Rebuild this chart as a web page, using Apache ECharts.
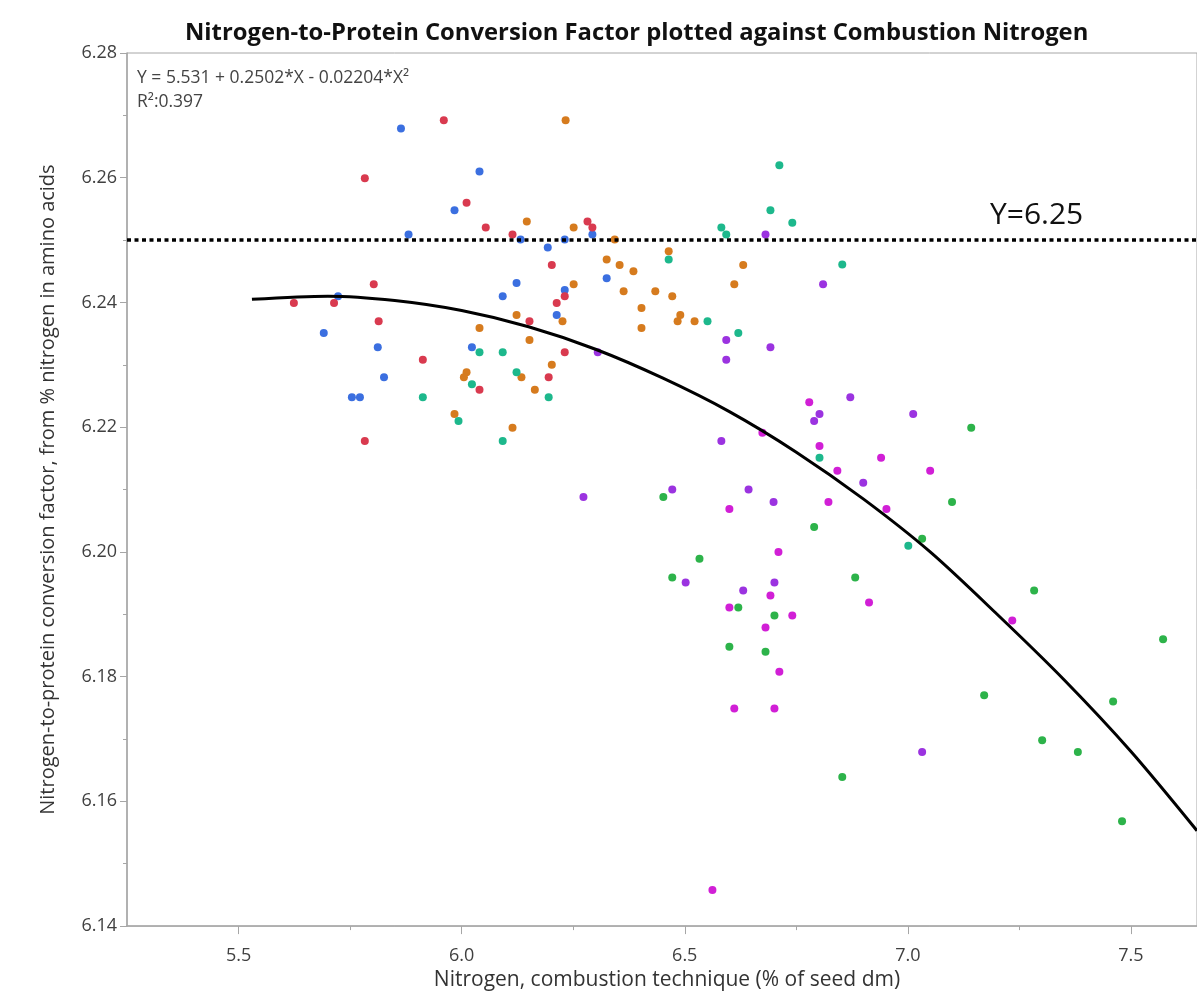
<!DOCTYPE html>
<html>
<head>
<meta charset="utf-8">
<script src="https://cdn.jsdelivr.net/npm/echarts@6/dist/echarts.min.js"></script>
<style>
  html, body { margin: 0; padding: 0; background: #fff; }
  #chart { width: 1197px; height: 996px; }
</style>
</head>
<body>
<div id="chart"></div>
<script>
// points per group: [nitrogen %, conversion factor]
const bluePts = [
  [5.864, 6.2679], [6.040, 6.2610], [5.984, 6.2548], [5.881, 6.2509], [6.132, 6.2501],
  [6.193, 6.2488], [6.231, 6.2501], [6.293, 6.2509], [6.325, 6.2439], [6.123, 6.2431],
  [6.092, 6.2410], [6.231, 6.2420], [6.213, 6.2380], [6.023, 6.2328], [5.723, 6.2410],
  [5.691, 6.2351], [5.812, 6.2328], [5.826, 6.2280], [5.754, 6.2248], [5.772, 6.2248]
];
const redPts = [
  [5.783, 6.2599], [5.803, 6.2429], [5.624, 6.2399], [5.714, 6.2399], [5.814, 6.2370],
  [5.913, 6.2308], [5.783, 6.2178], [5.960, 6.2692], [6.011, 6.2560], [6.054, 6.2520],
  [6.114, 6.2509], [6.282, 6.2530], [6.293, 6.2520], [6.202, 6.2460], [6.231, 6.2410],
  [6.213, 6.2399], [6.152, 6.2370], [6.231, 6.2320], [6.195, 6.2280], [6.040, 6.2260]
];
const orangePts = [
  [6.233, 6.2692], [6.146, 6.2530], [6.251, 6.2520], [6.343, 6.2501], [6.464, 6.2482],
  [6.325, 6.2469], [6.354, 6.2460], [6.385, 6.2450], [6.631, 6.2460], [6.251, 6.2429],
  [6.363, 6.2418], [6.434, 6.2418], [6.472, 6.2410], [6.611, 6.2429], [6.403, 6.2391],
  [6.123, 6.2380], [6.226, 6.2370], [6.490, 6.2380], [6.484, 6.2370], [6.522, 6.2370],
  [6.403, 6.2359], [6.040, 6.2359], [6.152, 6.2340], [6.202, 6.2300], [6.011, 6.2288],
  [6.005, 6.2280], [6.134, 6.2280], [6.164, 6.2260], [5.984, 6.2221], [6.114, 6.2199]
];
const tealPts = [
  [6.712, 6.2620], [6.692, 6.2548], [6.741, 6.2528], [6.582, 6.2520], [6.593, 6.2509],
  [6.464, 6.2469], [6.551, 6.2370], [6.620, 6.2351], [6.040, 6.2320], [6.092, 6.2320],
  [6.123, 6.2288], [6.023, 6.2269], [6.195, 6.2248], [5.993, 6.2210], [6.092, 6.2178],
  [6.853, 6.2461], [6.802, 6.2151], [7.001, 6.2010], [5.913, 6.2248]
];
const purplePts = [
  [6.681, 6.2509], [6.593, 6.2340], [6.692, 6.2328], [6.593, 6.2308], [6.305, 6.2320],
  [6.582, 6.2178], [6.810, 6.2429], [6.871, 6.2248], [6.802, 6.2221], [6.790, 6.2210],
  [7.012, 6.2221], [6.900, 6.2111], [6.273, 6.2088], [6.472, 6.2100], [6.643, 6.2100],
  [6.699, 6.2080], [6.502, 6.1951], [6.631, 6.1938], [6.701, 6.1951], [7.032, 6.1679]
];
const magentaPts = [
  [6.674, 6.2191], [6.779, 6.2240], [6.802, 6.2170], [6.940, 6.2151], [7.050, 6.2130],
  [6.842, 6.2130], [6.600, 6.2069], [6.822, 6.2080], [6.952, 6.2069], [6.710, 6.2000],
  [6.692, 6.1930], [6.913, 6.1919], [6.600, 6.1911], [6.741, 6.1898], [6.681, 6.1879],
  [6.712, 6.1808], [6.611, 6.1749], [6.701, 6.1749], [6.562, 6.1458], [7.234, 6.1890]
];
const greenPts = [
  [7.142, 6.2199], [7.099, 6.2080], [6.790, 6.2040], [7.032, 6.2021], [6.452, 6.2088],
  [6.533, 6.1989], [6.472, 6.1959], [6.882, 6.1959], [6.620, 6.1911], [6.701, 6.1898],
  [6.600, 6.1848], [6.681, 6.1840], [6.853, 6.1639], [7.171, 6.1770], [7.283, 6.1938],
  [7.572, 6.1860], [7.460, 6.1760], [7.301, 6.1698], [7.381, 6.1679], [7.480, 6.1568]
];

// fitted quadratic
const fitX = [5.53, 5.70, 5.85, 6.00, 6.15, 6.30, 6.45, 6.60, 6.75, 6.90, 7.05, 7.20, 7.35, 7.50, 7.648];
const fitY = [6.2405, 6.2410, 6.2403, 6.2387, 6.2361, 6.2325, 6.2279, 6.2225, 6.2160, 6.2085, 6.2000, 6.1900, 6.1795, 6.1680, 6.1553];

const refY = 6.25;
const xLabels = [5.5, 6.0, 6.5, 7.0, 7.5];
const xMinor = [5.75, 6.25, 6.75, 7.25];

const groups = [
  { pts: bluePts, color: '#3b6fe0' },
  { pts: redPts, color: '#d93a4f' },
  { pts: orangePts, color: '#d67b1e' },
  { pts: tealPts, color: '#1db88c' },
  { pts: purplePts, color: '#9b33e0' },
  { pts: magentaPts, color: '#d11fd6' },
  { pts: greenPts, color: '#2db34a' }
];

const chart = echarts.init(document.getElementById('chart'));
const axisGray = '#a6a6a6';
const font = 'Open Sans';

const scatterSeries = groups.map(g => ({
  type: 'scatter',
  data: g.pts,
  symbolSize: 8,
  itemStyle: { color: g.color, opacity: 1 },
  z: 2,
  silent: true
}));

chart.setOption({
  animation: false,
  backgroundColor: '#fff',
  title: {
    text: 'Nitrogen-to-Protein Conversion Factor plotted against Combustion Nitrogen',
    left: 185,
    top: 21,
    padding: 0,
    textStyle: { fontFamily: font, fontWeight: 'bold', fontSize: 23.8, color: '#111' }
  },
  grid: { left: 127, right: 0, top: 53, bottom: 68, show: true, borderColor: axisGray, borderWidth: 1 },
  xAxis: [
    {
      type: 'value',
      min: 5.25,
      max: 7.648,
      splitLine: { show: false },
      axisLine: { lineStyle: { color: axisGray, width: 1.5 } },
      axisTick: { customValues: xLabels, length: 8, lineStyle: { color: axisGray } },
      axisLabel: {
        customValues: xLabels,
        formatter: v => v.toFixed(1),
        margin: 21,
        fontFamily: font, fontSize: 18, color: '#404040'
      },
      name: 'Nitrogen, combustion technique (% of seed dm)',
      nameLocation: 'middle',
      nameGap: 43,
      nameTextStyle: { fontFamily: font, fontSize: 21, color: '#333', padding: [0, 0, 0, 10] }
    },
    {
      type: 'value',
      min: 5.25,
      max: 7.648,
      position: 'bottom',
      splitLine: { show: false },
      axisLine: { show: false },
      axisLabel: { show: false },
      axisTick: { customValues: xMinor, length: 4, lineStyle: { color: axisGray } }
    }
  ],
  yAxis: {
    type: 'value',
    min: 6.14,
    max: 6.28,
    interval: 0.02,
    splitLine: { show: false },
    axisLine: { show: true, lineStyle: { color: axisGray, width: 1.5 } },
    axisTick: { show: true, length: 7, lineStyle: { color: axisGray } },
    minorTick: { show: true, splitNumber: 2, length: 4, lineStyle: { color: axisGray } },
    axisLabel: { formatter: v => v.toFixed(2), margin: 10, fontFamily: font, fontSize: 18, color: '#404040' },
    name: 'Nitrogen-to-protein conversion factor, from % nitrogen in amino acids',
    nameLocation: 'middle',
    nameGap: 69,
    nameTextStyle: { fontFamily: font, fontSize: 20, color: '#333' }
  },
  graphic: [
    { type: 'text', left: 137, top: 69, style: { text: 'Y = 5.531 + 0.2502*X - 0.02204*X²', fontFamily: font, fontSize: 17.5, fill: '#444' } },
    { type: 'text', left: 137, top: 93, style: { text: 'R²:0.397', fontFamily: font, fontSize: 17.5, fill: '#444' } },
    { type: 'text', left: 990, top: 200, style: { text: 'Y=6.25', fontFamily: font, fontSize: 30, fill: '#111' } }
  ],
  series: [
    ...scatterSeries,
    {
      type: 'line',
      data: fitX.map((x, i) => [x, fitY[i]]),
      smooth: 0.3,
      showSymbol: false,
      lineStyle: { color: '#000', width: 3 },
      z: 4,
      silent: true,
      markLine: {
        silent: true,
        symbol: 'none',
        label: { show: false },
        lineStyle: { color: '#000', width: 3.5, type: [4, 3.5], cap: 'butt' },
        data: [{ yAxis: refY }]
      }
    }
  ]
});
</script>
</body>
</html>
